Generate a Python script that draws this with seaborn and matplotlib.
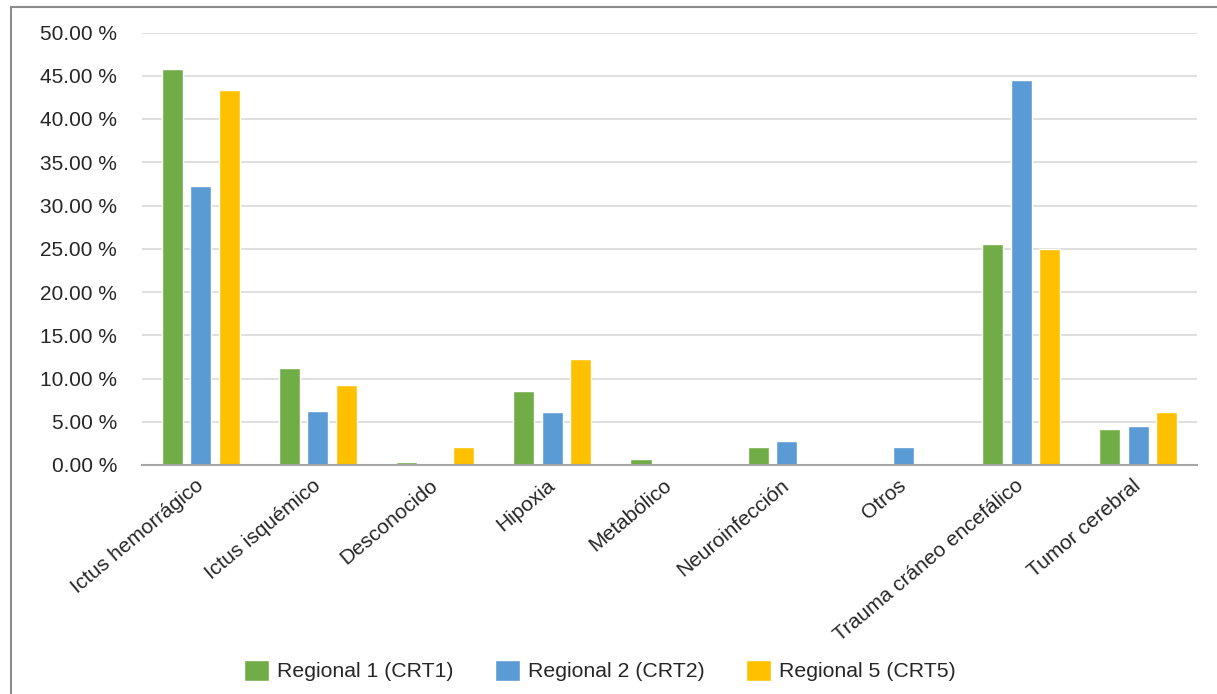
import matplotlib
matplotlib.use("Agg")
import matplotlib.pyplot as plt
import seaborn as sns
import pandas as pd
from matplotlib.patches import Rectangle
from matplotlib.ticker import FuncFormatter, MultipleLocator

categories = ["Ictus hemorrágico", "Ictus isquémico", "Desconocido", "Hipoxia",
              "Metabólico", "Neuroinfección", "Otros", "Trauma cráneo encefálico",
              "Tumor cerebral"]
series_names = ["Regional 1 (CRT1)", "Regional 2 (CRT2)", "Regional 5 (CRT5)"]
crt1 = [45.8, 11.2, 0.35, 8.6, 0.7, 2.1, 0.0, 25.6, 4.2]
crt2 = [32.3, 6.25, 0.0, 6.15, 0.0, 2.8, 2.1, 44.5, 4.5]
crt5 = [43.4, 9.25, 2.1, 12.3, 0.0, 0.0, 0.0, 25.0, 6.15]
colors = ["#70AD47", "#5B9BD5", "#FFC000"]

rows = []
for name, vals in zip(series_names, [crt1, crt2, crt5]):
    for c, v in zip(categories, vals):
        rows.append({"cat": c, "serie": name, "val": v})
df = pd.DataFrame(rows)

sns.set_theme(style="white")
plt.rcParams["font.family"] = ["Liberation Sans", "DejaVu Sans"]
text_color = "#262626"

W, H = 1217, 694
fig = plt.figure(figsize=(W / 100, H / 100), dpi=100)
ax = fig.add_axes([142/W, 1-465/H, (1197-142)/W, (465-32.5)/H])

sns.barplot(data=df, x="cat", y="val", hue="serie", order=categories,
            hue_order=series_names, palette=colors, width=0.73, gap=0.26,
            saturation=1, ax=ax, legend=True, errorbar=None)

ax.set_ylim(0, 50)
ax.set_xlim(-0.5, len(categories) - 0.5)
ax.yaxis.set_major_locator(MultipleLocator(5))
ax.yaxis.set_major_formatter(FuncFormatter(lambda v, p: f"{v:.2f} %"))
ax.grid(axis="y", color="#d9d9d9", linewidth=1.2)
ax.set_axisbelow(True)
for s in ["left", "right", "top"]:
    ax.spines[s].set_visible(False)
ax.spines["bottom"].set_color("#a6a6a6")
ax.spines["bottom"].set_linewidth(1.5)
ax.set_xlabel("")
ax.set_ylabel("")
ax.tick_params(axis="y", length=0, pad=18, labelsize=15, labelcolor=text_color)
ax.tick_params(axis="x", length=0, pad=13, labelsize=15, labelcolor=text_color)
plt.setp(ax.get_xticklabels(), rotation=40, ha="right", va="center",
         rotation_mode="anchor")

handles, labels = ax.get_legend_handles_labels()
ax.get_legend().remove()
fig.legend(handles, labels, loc="center", bbox_to_anchor=(600/W, 1-670.5/H),
           ncol=3, frameon=False, fontsize=15.3, labelcolor=text_color,
           handlelength=1.18, handleheight=1.18, handletextpad=0.38,
           columnspacing=1.93)

fig.patches.append(Rectangle((11/W, -0.05), 1.2, 1-7/H+0.05,
                             transform=fig.transFigure, fill=False,
                             edgecolor="#8c8c8c", linewidth=1.5))

fig.savefig("out.png", dpi=100)
